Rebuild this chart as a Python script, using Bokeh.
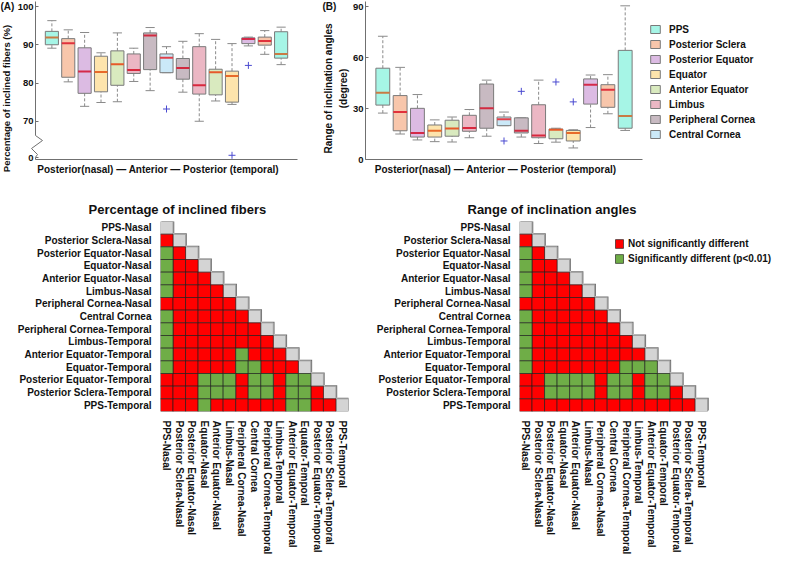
import math
from bokeh.plotting import figure
from bokeh.models import (ColumnDataSource, FixedTicker, Legend, LegendItem, Title, Range1d,
                          LinearAxis)
from bokeh.core.properties import value
from bokeh.layouts import column, row
from bokeh.embed import file_html
from bokeh.resources import INLINE

FONT = "Liberation Sans"

# ---------------- data ----------------
tissues = ["PPS", "Posterior Sclera", "Posterior Equator", "Equator",
           "Anterior Equator", "Limbus", "Peripheral Cornea", "Central Cornea"]
tissue_fill = ["#a6f5e6", "#f8c6ab", "#dcbbe3", "#fde4ac",
               "#d9eabf", "#ebb7c4", "#c8bac2", "#cbe9f8"]
median_color = ["#c87b45", "#e0323c", "#d42a4a", "#e86a2a",
                "#e65a2a", "#d8283e", "#d22a40", "#e0404a"]
# tissue index of each box, nasal -> anterior -> temporal
box_tissue = [0, 1, 2, 3, 4, 5, 6, 7, 6, 5, 4, 3, 2, 1, 0]

# (A) percentage of inclined fibers (%)
a_low = [89.1, 80.3, 73.9, 74.9, 75.1, 80.4, 78.0, 82.7, 77.6, 70.0, 75.3, 74.4, 89.7, 87.5, 84.8]
a_q1 = [90.0, 81.5, 77.3, 77.7, 79.4, 82.5, 83.5, 82.7, 81.0, 77.1, 76.9, 75.0, 90.3, 89.9, 86.5]
a_med = [91.9, 90.4, 83.0, 82.9, 84.9, 83.4, 92.4, 86.6, 83.9, 79.4, 82.8, 81.8, 91.5, 91.0, 87.6]
a_q3 = [93.5, 91.6, 89.2, 87.0, 88.4, 87.6, 93.1, 87.6, 86.4, 89.5, 83.6, 83.1, 91.8, 92.0, 93.4]
a_high = [96.3, 93.9, 93.2, 87.9, 93.1, 89.1, 94.5, 89.5, 90.9, 92.9, 91.4, 90.3, 92.0, 93.7, 94.6]
a_out_box = [8, 12, 13]
a_out_val = [73.2, 0.6, 84.6]
a_ticks = [70, 80, 90, 100]
a_break_tick = 0

# (B) range of inclination angles (degree)
b_low = [27.3, 15.0, 11.5, 10.5, 10.3, 12.8, 13.7, 19.9, 13.2, 9.4, 10.2, 6.8, 18.8, 26.9, 17.1]
b_q1 = [32.0, 16.9, 13.2, 13.2, 13.7, 16.6, 18.4, 19.9, 15.6, 12.8, 12.2, 10.9, 32.6, 30.7, 18.4]
b_med = [39.2, 27.9, 15.6, 16.9, 18.2, 18.6, 30.1, 23.7, 16.9, 14.1, 17.5, 15.6, 43.9, 41.0, 25.6]
b_q3 = [53.7, 37.6, 30.1, 20.3, 23.1, 26.0, 44.4, 25.0, 24.5, 32.2, 17.9, 17.1, 47.4, 44.0, 64.2]
b_high = [72.5, 54.2, 38.2, 23.3, 25.0, 29.4, 46.7, 27.9, 24.5, 46.7, 18.4, 17.5, 49.7, 49.9, 90.4]
b_out_box = [8, 9, 11, 12]
b_out_val = [10.9, 40.1, 45.6, 33.9]
b_ticks = [0, 30, 60, 90]

# pairwise comparison matrices (lower triangle, R = not significant, G = p<0.01)
regions = ["PPS-Nasal", "Posterior Sclera-Nasal", "Posterior Equator-Nasal", "Equator-Nasal",
           "Anterior Equator-Nasal", "Limbus-Nasal", "Peripheral Cornea-Nasal", "Central Cornea",
           "Peripheral Cornea-Temporal", "Limbus-Temporal", "Anterior Equator-Temporal",
           "Equator-Temporal", "Posterior Equator-Temporal", "Posterior Sclera-Temporal",
           "PPS-Temporal"]
sig_pct = ["", "R", "GR", "GRR", "GRRR", "GRRRR", "RRRRRR", "GRRRRRR", "GRRRRRRR",
           "GRRRRRRRR", "GRRRRRGRRR", "GRRRRRGGRRR", "RRRGGGRGGRGG", "RRRGGGRGGRGGR",
           "RRRGRRRRRRGGRR"]
sig_rng = ["", "R", "GR", "GRR", "GRRR", "GRRRR", "RRRRRR", "GRRRRRR", "GRRRRRRR",
           "GRRRRRRRR", "GRRRRRRRRR", "GRRRRRRRGGG", "RRGGGGRGGRGG", "RRGGGGRGGRGGR",
           "RRRRRRRRRRRRRR"]
sig_labels = {"R": "Not significantly different", "G": "Significantly different (p<0.01)"}
sig_colors = {"R": "#ff0000", "G": "#6fad47"}

TXT = "#111111"
AX = "#707070"
CELL_W = 188 / 15.0      # heatmap cell width in px
xlab = "Posterior(nasal)   \u2014  Anterior  \u2014   Posterior (temporal)"


def brk(v):
    # broken axis: values below 70 are drawn just above the break
    return v if v >= 70 else 60.5 + v


class Geo:
    """pixel <-> data helper for a figure whose frame fills the whole canvas"""
    def __init__(self, w, h, x0_px, px_per_x, ybot, ybot_px, ytop, ytop_px):
        self.w, self.h = w, h
        self.x0, self.px = x0_px, px_per_x
        self.sy = (ybot_px - ytop_px) / (ytop - ybot)
        self.ytop_val = ytop + ytop_px / self.sy

    def x(self, px):
        return (px - self.x0) / self.px

    def y(self, py):
        return self.ytop_val - py / self.sy

    def xr(self):
        return Range1d(self.x(0), self.x(self.w))

    def yr(self):
        return Range1d(self.y(self.h), self.y(0))


def draw_boxes(p, low, q1, med, q3, high, out_box, out_val, tf):
    pos = list(range(1, len(box_tissue) + 1))
    L = [tf(v) for v in low]
    Q1 = [tf(v) for v in q1]
    M = [tf(v) for v in med]
    Q3 = [tf(v) for v in q3]
    H = [tf(v) for v in high]
    ws = ColumnDataSource(dict(
        x=pos, lo=L, q1=Q1, q3=Q3, hi=H, med=M,
        c0=[x - 0.28 for x in pos], c1=[x + 0.28 for x in pos],
        m0=[x - 0.4 for x in pos], m1=[x + 0.4 for x in pos],
        mc=[median_color[t] for t in box_tissue]))
    p.segment(x0="x", y0="q3", x1="x", y1="hi", source=ws, line_color="#8a8a8a",
              line_dash="3 2", line_width=1)
    p.segment(x0="x", y0="lo", x1="x", y1="q1", source=ws, line_color="#8a8a8a",
              line_dash="3 2", line_width=1)
    p.segment(x0="c0", y0="hi", x1="c1", y1="hi", source=ws, line_color="#8a8a8a", line_width=1)
    p.segment(x0="c0", y0="lo", x1="c1", y1="lo", source=ws, line_color="#8a8a8a", line_width=1)
    rends = []
    for t in range(len(tissues)):
        idx = [i for i, tt in enumerate(box_tissue) if tt == t]
        src = ColumnDataSource(dict(x=[pos[i] for i in idx], top=[Q3[i] for i in idx],
                                    bottom=[Q1[i] for i in idx]))
        r = p.vbar(x="x", top="top", bottom="bottom", width=0.8, source=src,
                   fill_color=tissue_fill[t], line_color="#7a7a7a", line_width=1)
        rends.append(r)
    p.segment(x0="m0", y0="med", x1="m1", y1="med", source=ws, line_color="mc", line_width=2)
    p.scatter(x=out_box, y=[tf(v) for v in out_val], marker="cross", size=7,
              line_color="#4a4ad0", line_width=1)
    return rends


def style_axis(ax):
    ax.axis_line_color = AX
    ax.axis_line_width = 1
    ax.major_tick_line_color = AX
    ax.major_tick_in = 3
    ax.major_tick_out = 0
    ax.minor_tick_line_color = None
    ax.major_label_text_font = FONT
    ax.major_label_text_font_style = "bold"
    ax.major_label_text_font_size = "9.5px"
    ax.major_label_text_color = TXT
    ax.major_label_standoff = 2


def box_figure(g):
    p = figure(width=g.w, height=g.h, x_range=g.xr(), y_range=g.yr(), min_border=0,
               output_backend="svg", toolbar_location=None)
    p.xgrid.visible = False
    p.ygrid.visible = False
    p.outline_line_color = None
    p.xaxis.ticker = FixedTicker(ticks=[])
    p.xaxis.bounds = (0, 16)
    style_axis(p.xaxis[0])
    style_axis(p.yaxis[0])
    p.yaxis.fixed_location = 0
    return p


def add_text(p, x, y, text, size="10px", angle=0.0, align="center", baseline="middle"):
    p.text(x=[x], y=[y], text=[text], angle=angle, text_font=value(FONT),
           text_font_style="bold", text_font_size=size, text_color=TXT,
           text_align=align, text_baseline=baseline)


# ---------------- panel A ----------------
gA = Geo(314, 185, 35, 262 / 16.0, 60, 159, 100, 6)
pA = box_figure(gA)
pA.xaxis.fixed_location = 60
draw_boxes(pA, a_low, a_q1, a_med, a_q3, a_high, a_out_box, a_out_val, brk)
pA.yaxis.ticker = FixedTicker(ticks=a_ticks)
pA.yaxis.bounds = (gA.y(135), gA.y(1))
ax_zero = LinearAxis(fixed_location=0, bounds=(60, brk(a_break_tick) + 0.1),
                     ticker=FixedTicker(ticks=[brk(a_break_tick)]),
                     major_label_overrides={brk(a_break_tick): str(a_break_tick)})
style_axis(ax_zero)
pA.add_layout(ax_zero, "left")
# axis-break mark
pA.line(x=[gA.x(35), gA.x(42), gA.x(31), gA.x(37), gA.x(35)],
        y=[gA.y(135), gA.y(140), gA.y(148), gA.y(154), brk(a_break_tick) + 0.1],
        line_color=AX, line_width=1)
add_text(pA, gA.x(6), gA.y(98), "Percentage of inclined fibers (%)", size="9.5px",
         angle=math.pi / 2)
add_text(pA, gA.x(0), gA.y(0.5), "(A)", baseline="top", align="left")
add_text(pA, 8, gA.y(169), xlab)

# ---------------- panel B ----------------
gB = Geo(459, 185, 51, 277 / 16.0, 0, 159, 90, 6)
pB = box_figure(gB)
pB.xaxis.fixed_location = 0
rB = draw_boxes(pB, b_low, b_q1, b_med, b_q3, b_high, b_out_box, b_out_val, lambda v: v)
pB.yaxis.ticker = FixedTicker(ticks=b_ticks)
pB.yaxis.bounds = (0, gB.y(1))
add_text(pB, gB.x(13.5), gB.y(88), "Range of inclination angles", angle=math.pi / 2)
add_text(pB, gB.x(29), gB.y(88), "(degree)", angle=math.pi / 2)
add_text(pB, gB.x(8), gB.y(0.5), "(B)", baseline="top", align="left")
add_text(pB, 8, gB.y(169), xlab)
legB = Legend(items=[LegendItem(label=t, renderers=[r]) for t, r in zip(tissues, rB)],
              location=(335, 45), padding=0, margin=0, spacing=3,
              glyph_width=12, glyph_height=10, label_height=12, label_standoff=8,
              label_text_font=FONT, label_text_font_style="bold",
              label_text_font_size="10px", label_text_color=TXT,
              border_line_color=None, background_fill_alpha=0)
pB.add_layout(legB)


# ---------------- heatmaps ----------------
def heatmap(title, sig, width, left, right, toff, with_legend):
    n = len(regions)
    xmax = (width - left - right) / CELL_W
    p = figure(width=width, height=372, x_range=Range1d(0, xmax), y_range=Range1d(n, 0),
               output_backend="svg", toolbar_location=None,
               min_border_left=left, min_border_right=right,
               min_border_top=36, min_border_bottom=141)
    p.xgrid.visible = False
    p.ygrid.visible = False
    p.outline_line_color = None
    centers = [i + 0.5 for i in range(n)]
    for ax in (p.xaxis[0], p.yaxis[0]):
        ax.ticker = FixedTicker(ticks=centers)
        ax.major_label_overrides = {c: lab for c, lab in zip(centers, regions)}
        ax.axis_line_color = None
        ax.major_tick_line_color = None
        ax.minor_tick_line_color = None
        ax.major_label_text_font = FONT
        ax.major_label_text_font_style = "bold"
        ax.major_label_text_font_size = "10px"
        ax.major_label_text_color = TXT
        ax.major_label_standoff = 3
    p.xaxis.major_label_orientation = -math.pi / 2
    # diagonal cells with a small shadow
    diag = ColumnDataSource(dict(x=centers, y=centers,
                                 xs=[c + 0.1 for c in centers], ys=[c - 0.08 for c in centers]))
    p.rect(x="xs", y="ys", width=1, height=1, source=diag, fill_color="#6e6e6e", line_color=None)
    p.rect(x="x", y="y", width=1, height=1, source=diag, fill_color="#d4d4d4",
           line_color="#a0a0a0", line_width=1)
    rends = {}
    for key in ["R", "G"]:
        xs, ys = [], []
        for i, rowstr in enumerate(sig):
            for j, ch in enumerate(rowstr):
                if ch == key:
                    xs.append(centers[j])
                    ys.append(centers[i])
        rends[key] = p.rect(x=xs, y=ys, width=1, height=1, fill_color=sig_colors[key],
                            line_color="#1a1a1a", line_width=0.8, line_alpha=0.8)
    p.add_layout(Title(text=title, align="left", offset=toff, standoff=9,
                       text_font=FONT, text_font_style="bold", text_font_size="13px",
                       text_color=TXT), "above")
    if with_legend:
        leg = Legend(items=[LegendItem(label=sig_labels[k], renderers=[rends[k]]) for k in ["R", "G"]],
                     location=(95, 147), padding=0, margin=0, spacing=3,
                     glyph_width=10, glyph_height=11, label_height=12, label_standoff=4,
                     label_text_font=FONT, label_text_font_style="bold",
                     label_text_font_size="10px", label_text_color=TXT,
                     border_line_color=None, background_fill_alpha=0)
        p.add_layout(leg)
    return p


hA = heatmap("Percentage of inclined fibers", sig_pct, 360, 160, 12, -72, False)
hB = heatmap("Range of inclination angles", sig_rng, 413, 159, 0, -52, True)

layout = column(row(pA, pB), row(hA, hB))
open("out.html", "w").write(file_html(layout, INLINE))
